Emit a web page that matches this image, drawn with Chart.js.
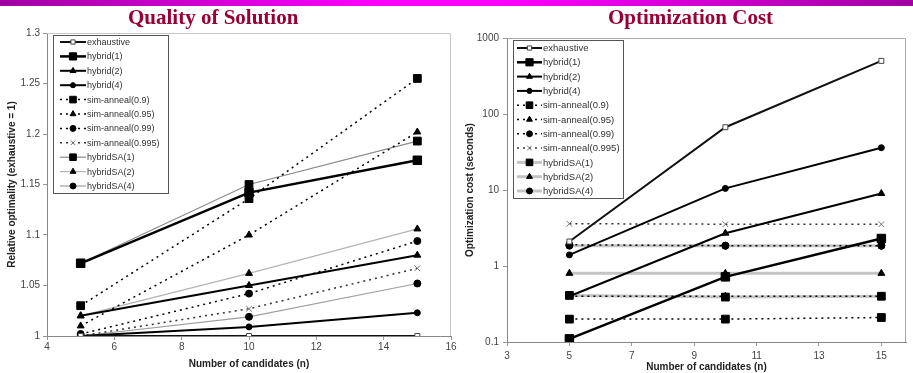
<!DOCTYPE html>
<html>
<head>
<meta charset="utf-8">
<script src="https://cdn.jsdelivr.net/npm/chart.js@4.4.1/dist/chart.umd.min.js"></script>
<style>
  html, body { margin: 0; padding: 0; background: #fff; width: 913px; height: 373px; overflow: hidden; }
  .bar { position: absolute; left: 0; top: 0; width: 913px; height: 6px;
    background: linear-gradient(to right, #a000a0 0%, #ff00ff 42%, #ff00ff 55%, #a000a0 100%); }
  .title { position: absolute; top: 7px; font-family: "Liberation Serif", "Times New Roman", serif;
    font-weight: bold; font-size: 21px; line-height: 21px; color: #990033; white-space: nowrap; }
</style>
</head>
<body>
<div class="bar"></div>
<canvas id="qualityChart" width="460" height="373" style="position:absolute;left:0;top:0"></canvas>
<canvas id="costChart" width="458" height="373" style="position:absolute;left:455px;top:0"></canvas>
<div class="title" style="left:128px">Quality of Solution</div>
<div class="title" style="left:608px">Optimization Cost</div>
<script>
  "use strict";

  // Number of candidates (n)
  const candidates = [5, 10, 15];

  const seriesNames = [
    "exhaustive",
    "hybrid(1)",
    "hybrid(2)",
    "hybrid(4)",
    "sim-anneal(0.9)",
    "sim-anneal(0.95)",
    "sim-anneal(0.99)",
    "sim-anneal(0.995)",
    "hybridSA(1)",
    "hybridSA(2)",
    "hybridSA(4)",
  ];

  // Quality of Solution: relative optimality (exhaustive = 1)
  const qExhaustive = [1.0, 1.0, 1.0];
  const qHybrid1 = [1.072, 1.142, 1.174];
  const qHybrid2 = [1.02, 1.05, 1.08];
  const qHybrid4 = [1.0, 1.009, 1.023];
  const qSim09 = [1.03, 1.136, 1.255];
  const qSim095 = [1.01, 1.1, 1.202];
  const qSim099 = [1.002, 1.042, 1.094];
  const qSim0995 = [1.0, 1.027, 1.067];
  const qHybridSA1 = [1.072, 1.15, 1.193];
  const qHybridSA2 = [1.02, 1.062, 1.106];
  const qHybridSA4 = [1.0, 1.019, 1.052];

  // Optimization Cost: seconds
  const cExhaustive = [2.1, 67, 500];
  const cHybrid1 = [0.11, 0.72, 2.3];
  const cHybrid2 = [0.4, 2.7, 9];
  const cHybrid4 = [1.4, 10.5, 36];
  const cSim09 = [0.2, 0.2, 0.21];
  const cSim095 = [0.4, 0.4, 0.4];
  const cSim099 = [1.9, 1.85, 1.85];
  const cSim0995 = [3.6, 3.55, 3.55];
  const cHybridSA1 = [0.41, 0.39, 0.4];
  const cHybridSA2 = [0.8, 0.8, 0.8];
  const cHybridSA4 = [1.85, 1.85, 1.85];

  const qualityTicks = [1, 1.05, 1.1, 1.15, 1.2, 1.25, 1.3];
  const costTicksY = [0.1, 1, 10, 100, 1000];
  const costTicksX = [3, 5, 7, 9, 11, 13, 15];

  const FONT = "'Liberation Sans', Arial, sans-serif";

  // line + marker look of each series, same order as seriesNames
  function styles(gray) {
    const solid = { borderColor: "#000", borderWidth: 2 };
    const dotted = { borderColor: "#000", borderWidth: 1.5, borderDash: [2, 4] };
    return [
      { borderColor: "#111", borderWidth: 2, pointStyle: "rect", pointRadius: 3.5, pointBackgroundColor: "#fff", pointBorderColor: "#444" },
      { ...solid, borderWidth: 2.5, pointStyle: "rect", pointRadius: 6 },
      { ...solid, pointStyle: "triangle", pointRadius: 4 },
      { ...solid, pointStyle: "circle", pointRadius: 3 },
      { ...dotted, pointStyle: "rect", pointRadius: 5.5 },
      { ...dotted, pointStyle: "triangle", pointRadius: 4 },
      { ...dotted, pointStyle: "circle", pointRadius: 3.5 },
      { ...dotted, borderColor: "#333", pointStyle: "crossRot", pointRadius: 4, pointBorderColor: "#777" },
      { borderColor: gray.colors[0], borderWidth: gray.width, pointStyle: "rect", pointRadius: 5.5 },
      { borderColor: gray.colors[1], borderWidth: gray.width, pointStyle: "triangle", pointRadius: 4 },
      { borderColor: gray.colors[2], borderWidth: gray.width, pointStyle: "circle", pointRadius: 3.5 },
    ];
  }

  function buildDatasets(valueLists, gray) {
    const st = styles(gray);
    return valueLists.map((values, i) => ({
      label: seriesNames[i],
      data: candidates.map((n, k) => ({ x: n, y: values[k] })),
      fill: false,
      tension: 0,
      pointBackgroundColor: "#000",
      pointBorderColor: "#000",
      pointBorderWidth: 1,
      pointHoverRadius: 0,
      borderDash: [],
      ...st[i],
    }));
  }

  // Excel-like legend box with line + marker samples
  const boxLegend = {
    id: "boxLegend",
    afterDraw(chart, args, o) {
      const ctx = chart.ctx;
      ctx.save();
      ctx.fillStyle = "#fff";
      ctx.fillRect(o.x, o.y, o.w, o.h);
      ctx.strokeStyle = "#555";
      ctx.lineWidth = 1;
      ctx.strokeRect(o.x + 0.5, o.y + 0.5, o.w, o.h);
      chart.data.datasets.forEach((ds, i) => {
        const y = o.first + i * o.step;
        ctx.save();
        ctx.strokeStyle = ds.borderColor;
        ctx.lineWidth = ds.borderWidth;
        ctx.setLineDash(ds.borderDash || []);
        ctx.beginPath();
        ctx.moveTo(o.lineFrom, y);
        ctx.lineTo(o.lineTo, y);
        ctx.stroke();
        ctx.restore();
        ctx.fillStyle = ds.pointBackgroundColor;
        ctx.strokeStyle = ds.pointBorderColor;
        ctx.lineWidth = ds.pointBorderWidth;
        Chart.helpers.drawPoint(ctx, { pointStyle: ds.pointStyle, radius: ds.pointRadius * 0.85, borderWidth: 1 }, (o.lineFrom + o.lineTo) / 2, y);
        ctx.fillStyle = "#333";
        ctx.font = o.fontSize + "px " + FONT;
        ctx.textBaseline = "middle";
        ctx.fillText(ds.label, o.textX, y + 0.5);
      });
      ctx.restore();
    },
  };

  // light frame along top and right of the plot area
  const plotFrame = {
    id: "plotFrame",
    beforeDatasetsDraw(chart, args, o) {
      const { left, top, right, bottom } = chart.chartArea;
      const ctx = chart.ctx;
      ctx.save();
      ctx.strokeStyle = o.color;
      ctx.lineWidth = 1;
      ctx.beginPath();
      ctx.moveTo(left, top + 0.5);
      ctx.lineTo(right - 0.5, top + 0.5);
      ctx.lineTo(right - 0.5, bottom);
      ctx.stroke();
      ctx.restore();
    },
  };

  function fixWidth(w) {
    return (scale) => {
      scale.width = w;
      scale.paddingTop = 0;
      scale.paddingBottom = 0;
    };
  }
  function fixHeight(h) {
    return (scale) => {
      scale.height = h;
      scale.paddingLeft = 0;
      scale.paddingRight = 0;
    };
  }

  const tickFont = { family: FONT, size: 10 };
  const titleFont = { family: FONT, size: 10, weight: "bold" };

  new Chart(document.getElementById("qualityChart"), {
    type: "line",
    data: {
      datasets: buildDatasets(
        [qExhaustive, qHybrid1, qHybrid2, qHybrid4, qSim09, qSim095, qSim099, qSim0995, qHybridSA1, qHybridSA2, qHybridSA4],
        { width: 1.2, colors: ["#8a8a8a", "#b4b4b4", "#a0a0a0"] }
      ),
    },
    options: {
      responsive: false,
      animation: false,
      devicePixelRatio: 1,
      layout: { padding: { left: 0, top: 33, right: 9, bottom: 0 } },
      plugins: {
        legend: { display: false },
        tooltip: { enabled: false },
        plotFrame: { color: "#c8c8c8" },
        boxLegend: { x: 53, y: 35, w: 115, h: 158, first: 42, step: 14.4, lineFrom: 60, lineTo: 86, textX: 87, fontSize: 9 },
      },
      scales: {
        x: {
          type: "linear",
          min: 4,
          max: 16,
          afterBuildTicks: (s) => { s.ticks = [4, 6, 8, 10, 12, 14, 16].map((v) => ({ value: v })); },
          afterFit: fixHeight(37),
          grid: { drawOnChartArea: false, tickLength: 4, color: "#999" },
          border: { color: "#888" },
          ticks: { font: tickFont, color: "#444", padding: 1, maxRotation: 0 },
          title: { display: true, text: "Number of candidates (n)", font: titleFont, color: "#222", padding: { top: 0, bottom: 3 } },
        },
        y: {
          min: 1,
          max: 1.3,
          afterBuildTicks: (s) => { s.ticks = qualityTicks.map((v) => ({ value: v })); },
          afterFit: fixWidth(47),
          grid: { drawOnChartArea: false, tickLength: 4, color: "#999" },
          border: { color: "#888" },
          ticks: { font: tickFont, color: "#444", padding: 3, callback: (v) => String(+v.toFixed(2)) },
          title: { display: true, text: "Relative optimality (exhaustive = 1)", font: titleFont, color: "#222", padding: { top: 6, bottom: 0 } },
        },
      },
    },
    plugins: [plotFrame, boxLegend],
  });

  new Chart(document.getElementById("costChart"), {
    type: "line",
    data: {
      datasets: buildDatasets(
        [cExhaustive, cHybrid1, cHybrid2, cHybrid4, cSim09, cSim095, cSim099, cSim0995, cHybridSA1, cHybridSA2, cHybridSA4],
        { width: 3, colors: ["#c4c4c4", "#c4c4c4", "#c4c4c4"] }
      ),
    },
    options: {
      responsive: false,
      animation: false,
      devicePixelRatio: 1,
      layout: { padding: { left: 0, top: 38, right: 0, bottom: 0 } },
      plugins: {
        legend: { display: false },
        tooltip: { enabled: false },
        plotFrame: { color: "#aaa" },
        boxLegend: { x: 58, y: 40, w: 110, h: 158, first: 48, step: 14.3, lineFrom: 62, lineTo: 87, textX: 88, fontSize: 9.5 },
      },
      scales: {
        x: {
          type: "linear",
          min: 3,
          max: 15.79,
          afterBuildTicks: (s) => { s.ticks = costTicksX.map((v) => ({ value: v })); },
          afterFit: fixHeight(31),
          grid: { drawOnChartArea: false, tickLength: 4, color: "#999" },
          border: { color: "#888" },
          ticks: { font: tickFont, color: "#444", padding: 4, maxRotation: 0 },
          title: { display: true, text: "Number of candidates (n)", font: titleFont, color: "#222", padding: { top: 0, bottom: 0 } },
        },
        y: {
          type: "logarithmic",
          min: 0.1,
          max: 1000,
          afterBuildTicks: (s) => { s.ticks = costTicksY.map((v) => ({ value: v })); },
          afterFit: fixWidth(52),
          grid: { drawOnChartArea: false, tickLength: 4, color: "#999" },
          border: { color: "#888" },
          ticks: { font: tickFont, color: "#444", padding: 4, callback: (v) => String(v) },
          title: { display: true, text: "Optimization cost (seconds)", font: titleFont, color: "#222", padding: { top: 9, bottom: 0 } },
        },
      },
    },
    plugins: [plotFrame, boxLegend],
  });
</script>
</body>
</html>
